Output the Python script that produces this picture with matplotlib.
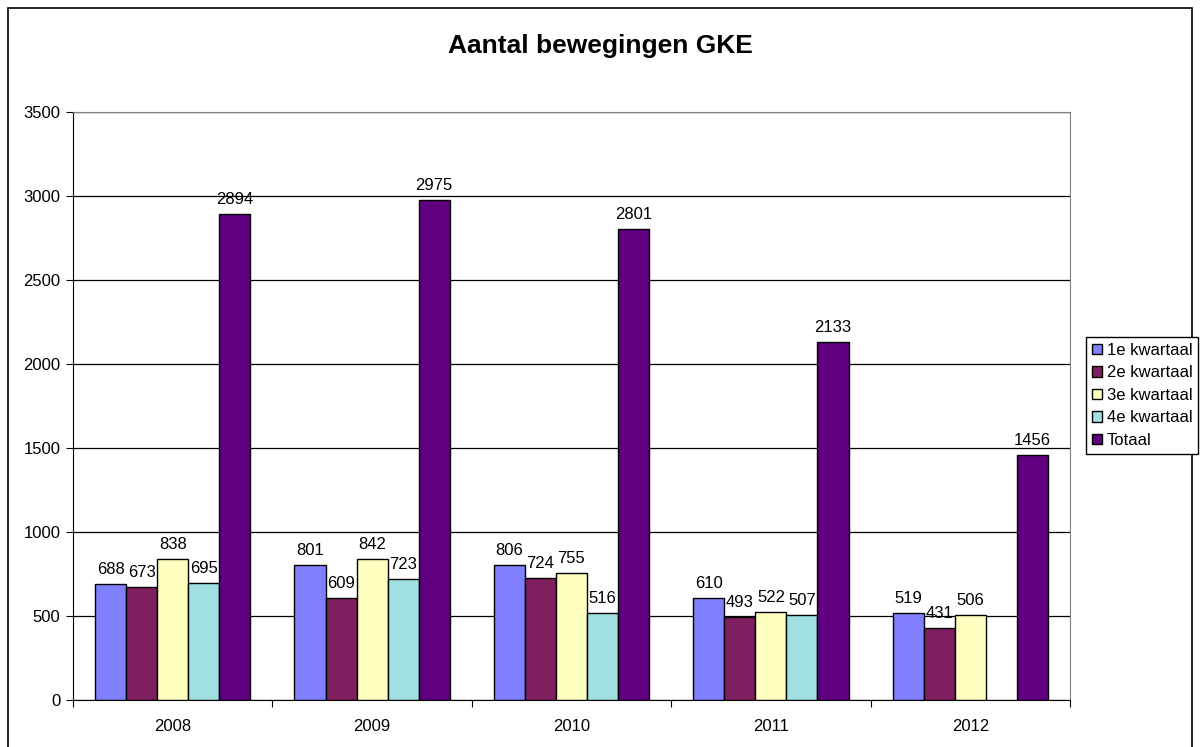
import numpy as np
import matplotlib.pyplot as plt
import matplotlib.patches as mpatches

plt.rcParams['font.family'] = ['Liberation Sans', 'DejaVu Sans']

# Data
years = ['2008', '2009', '2010', '2011', '2012']
series_names = ['1e kwartaal', '2e kwartaal', '3e kwartaal', '4e kwartaal', 'Totaal']
q1 = [688, 801, 806, 610, 519]
q2 = [673, 609, 724, 493, 431]
q3 = [838, 842, 755, 522, 506]
q4 = [695, 723, 516, 507, np.nan]
totaal = [2894, 2975, 2801, 2133, 1456]

colors = ['#8080FF', '#7F1F5F', '#FFFFC0', '#A0E0E0', '#600080']

fig = plt.figure(figsize=(12, 7.47), dpi=100)
fig.patch.set_facecolor('white')
ax = fig.add_axes([73 / 1200, 47 / 747, 997 / 1200, 588 / 747])

x = np.arange(len(years))
n = len(series_names)
width = 1 / (n + 1.42)

for i, (vals, col, name) in enumerate(zip([q1, q2, q3, q4, totaal], colors, series_names)):
    pos = x + (i - (n - 1) / 2) * width
    v = np.array(vals, dtype=float)
    bars = ax.bar(pos, v, width, color=col, edgecolor='black', linewidth=1, label=name, zorder=3)
    labels = ['' if np.isnan(val) else f'{int(val)}' for val in v]
    ax.bar_label(bars, labels=labels, padding=5, fontsize=12, zorder=4)

ax.set_xlim(-0.5, len(years) - 0.5)
ax.set_ylim(0, 3500)
ax.set_yticks(np.arange(0, 3501, 500))
ax.yaxis.grid(True, color='black', linewidth=0.9, zorder=0)
ax.tick_params(axis='y', direction='out', length=5, labelsize=12, pad=4)

# category boundaries as major ticks, labels at minor positions
ax.set_xticks(np.arange(-0.5, len(years), 1.0))
ax.set_xticklabels([])
ax.set_xticks(x, minor=True)
ax.set_xticklabels(years, minor=True)
ax.tick_params(axis='x', which='major', direction='out', length=5)
ax.tick_params(axis='x', which='minor', length=0, labelsize=12, pad=14)

for s in ['top', 'right']:
    ax.spines[s].set_color('#808080')
for s in ['left', 'bottom']:
    ax.spines[s].set_color('black')

fig.text(0.5, 1 - 46 / 747, 'Aantal bewegingen GKE', ha='center', va='center',
         fontsize=19, fontweight='bold')

handles = [mpatches.Patch(facecolor=c, edgecolor='black', linewidth=1, label=nm)
           for c, nm in zip(colors, series_names)]
leg = fig.legend(handles=handles, loc='upper left', bbox_to_anchor=(1086 / 1200, 1 - 337 / 747),
                 fancybox=False, edgecolor='black', fontsize=12, handlelength=0.6,
                 handleheight=0.6, handletextpad=0.3, borderpad=0.35, labelspacing=0.45,
                 borderaxespad=0, framealpha=1)
leg.get_frame().set_linewidth(1)

# outer chart border
fig.patches.append(mpatches.Rectangle((8 / 1200, -0.01), 1184 / 1200, 1 - 8 / 747 + 0.01,
                                      transform=fig.transFigure, fill=False,
                                      edgecolor='black', linewidth=1.2))

plt.savefig('out.png', dpi=100, facecolor='white')
